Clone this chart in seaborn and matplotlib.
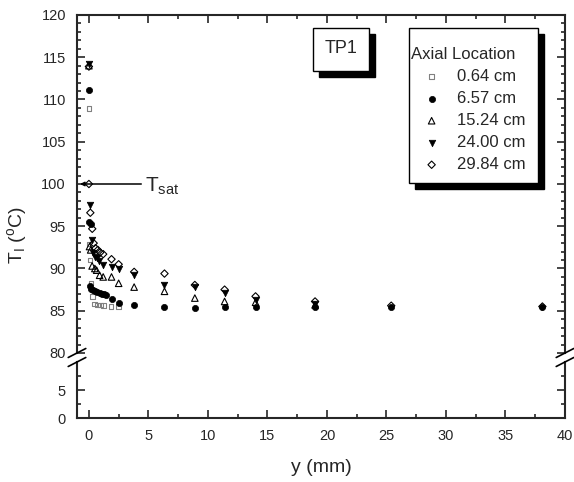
import matplotlib
matplotlib.use("Agg")
import matplotlib.pyplot as plt
import seaborn as sns
import pandas as pd
from matplotlib.patches import Rectangle
from matplotlib.ticker import MultipleLocator, FixedLocator

sns.set_style("ticks")
plt.rcParams["font.family"] = ["Liberation Sans", "DejaVu Sans"]
plt.rcParams["mathtext.fontset"] = "custom"
plt.rcParams["mathtext.rm"] = "Liberation Sans"
plt.rcParams["mathtext.it"] = "Liberation Sans:italic"

# distance from the wall y (mm) and interface temperature (deg C) per axial location
y_064 = [0, 0.02, 0.08, 0.18, 0.3, 0.45, 0.72, 0.98, 1.22, 1.85, 2.5]
t_064 = [108.9, 92.9, 91.0, 88.3, 86.7, 85.8, 85.7, 85.7, 85.6, 85.5, 85.5]

y_657 = [0, 0, 0.15, 0.08, 0.2, 0.35, 0.5, 0.7, 0.9, 1.1, 1.3, 1.45,
         1.9, 2.5, 3.8, 6.35, 8.9, 11.4, 14.0, 19.0, 25.4, 38.1]
t_657 = [111.1, 95.5, 95.3, 87.9, 87.6, 87.4, 87.3, 87.2, 87.1, 87.0, 86.95, 86.9,
         86.4, 85.9, 85.7, 85.4, 85.3, 85.4, 85.4, 85.4, 85.4, 85.4]

y_1524 = [0, 0.05, 0.15, 0.27, 0.5, 0.65, 0.9, 1.2, 1.9, 2.5, 3.8, 6.35, 8.9, 11.4, 14.0, 19.0]
t_1524 = [114.0, 92.6, 92.2, 90.3, 90.0, 89.8, 89.2, 89.0, 89.0, 88.25, 87.8, 87.3, 86.5, 86.1, 86.0, 85.7]

y_2400 = [0, 0.08, 0.22, 0.36, 0.5, 0.65, 0.85, 1.2, 1.9, 2.5, 3.8, 6.35, 8.9, 11.4, 14.0, 19.0]
t_2400 = [114.2, 97.5, 93.4, 91.8, 91.4, 91.2, 90.9, 90.4, 90.2, 89.9, 89.2, 88.1, 87.8, 87.1, 86.3, 85.8]

y_2984 = [0, 0, 0.12, 0.28, 0.4, 0.55, 0.75, 0.95, 1.2, 1.9, 2.5, 3.8, 6.35, 8.9, 11.4,
          14.0, 19.0, 25.4, 38.1]
t_2984 = [113.9, 100.0, 96.6, 94.7, 93.0, 92.4, 92.2, 91.9, 91.7, 91.1, 90.5, 89.6, 89.4,
          88.05, 87.5, 86.7, 86.1, 85.6, 85.5]

labels = ["0.64 cm", "6.57 cm", "15.24 cm", "24.00 cm", "29.84 cm"]
t_sat = 100.0

series = [
    (y_064, t_064, dict(marker="s", s=11, facecolor="none", edgecolor="#808080", linewidth=0.8)),
    (y_657, t_657, dict(marker="o", s=20, facecolor="k", edgecolor="k", linewidth=0.5)),
    (y_1524, t_1524, dict(marker="^", s=22, facecolor="none", edgecolor="k", linewidth=0.8)),
    (y_2400, t_2400, dict(marker="v", s=22, facecolor="k", edgecolor="k", linewidth=0.5)),
    (y_2984, t_2984, dict(marker="D", s=14, facecolor="none", edgecolor="k", linewidth=0.8)),
]

W, H = 574, 482
fig = plt.figure(figsize=(W / 100, H / 100), dpi=100)
L, R = 77, 565
ax = fig.add_axes([L / W, 1 - 353 / H, (R - L) / W, (353 - 15) / H])
axb = fig.add_axes([L / W, 1 - 418 / H, (R - L) / W, (418 - 362) / H])

for (xs, ts, kw), lab in zip(series, labels):
    df = pd.DataFrame({"y": xs, "T": ts})
    sns.scatterplot(data=df, x="y", y="T", ax=ax, label=lab, zorder=3, clip_on=False, **kw)

ax.set_xlim(-1, 40)
ax.set_ylim(80, 120)
axb.set_xlim(-1, 40)
axb.set_ylim(0, 10)
ax.set_xlabel("")
ax.set_ylabel("")

for a in (ax, axb):
    for sp in a.spines.values():
        sp.set_linewidth(1.5)
        sp.set_visible(True)
    a.xaxis.set_major_locator(MultipleLocator(5))
    a.xaxis.set_minor_locator(MultipleLocator(2.5))
    a.tick_params(which="major", direction="in", length=6, width=1.2, labelsize=10.5, pad=8)
    a.tick_params(which="minor", direction="in", length=3, width=1.2)

ax.spines["bottom"].set_visible(False)
axb.spines["top"].set_visible(False)

ax.yaxis.set_major_locator(MultipleLocator(5))
ax.yaxis.set_minor_locator(MultipleLocator(1))
ax.tick_params(axis="x", which="both", bottom=False, top=True, labelbottom=False)
ax.tick_params(axis="y", which="both", left=True, right=True)

axb.yaxis.set_major_locator(FixedLocator([0, 5]))
axb.yaxis.set_minor_locator(FixedLocator([2.5, 7.5]))
axb.tick_params(axis="x", which="both", bottom=True, top=False)
axb.tick_params(axis="y", which="both", left=True, right=True)

# break marks on both vertical spines
for xa in (0.0, 1.0):
    for yb, a in ((0.0, ax), (1.0, axb)):
        h = 4.5 / a.bbox.height
        a.plot([xa - 0.018, xa + 0.018], [yb - h, yb + h],
               transform=a.transAxes, color="k", lw=1.2, clip_on=False, zorder=6)

# saturation temperature marker
ax.annotate("", xy=(-0.75, t_sat), xytext=(4.4, t_sat),
            arrowprops=dict(arrowstyle="-|>", color="k", lw=1.1, mutation_scale=6,
                            shrinkA=0, shrinkB=0), zorder=4)
ax.text(4.75, 99.1, r"T$_\mathregular{sat}$", fontsize=15, va="baseline", ha="left")

# boxes with a solid drop shadow
def shadow_box(a, x0, y0, x1, y1, off=6):
    dx = off / a.bbox.width
    dy = off / a.bbox.height
    a.add_patch(Rectangle((x0 + dx, y0 - dy), x1 - x0, y1 - y0, transform=a.transAxes,
                          facecolor="k", edgecolor="k", zorder=7, clip_on=False))
    a.add_patch(Rectangle((x0, y0), x1 - x0, y1 - y0, transform=a.transAxes,
                          facecolor="white", edgecolor="k", lw=1.0, zorder=8, clip_on=False))

shadow_box(ax, 0.4836, 0.834, 0.598, 0.9615)
ax.text(0.5420, 0.902, "TP1", transform=ax.transAxes, fontsize=13, ha="center", va="center", zorder=9)

shadow_box(ax, 0.680, 0.503, 0.945, 0.9615)
leg = ax.legend(title="Axial Location", frameon=False, loc="upper left",
                bbox_to_anchor=(0.684, 0.905), borderpad=0, borderaxespad=0,
                alignment="left", fontsize=12, title_fontsize=12,
                handlelength=2.5, handletextpad=0.3, labelspacing=0.42)
leg.set_zorder(10)

fig.text(17 / W, 1 - 235 / H, r"T$_\mathregular{I}$ ($^\mathregular{o}$C)", rotation=90,
         fontsize=14, ha="center", va="center")
fig.text(321 / W, 1 - 467 / H, "y (mm)", fontsize=14, ha="center", va="center")

fig.savefig("out.png", dpi=100)
